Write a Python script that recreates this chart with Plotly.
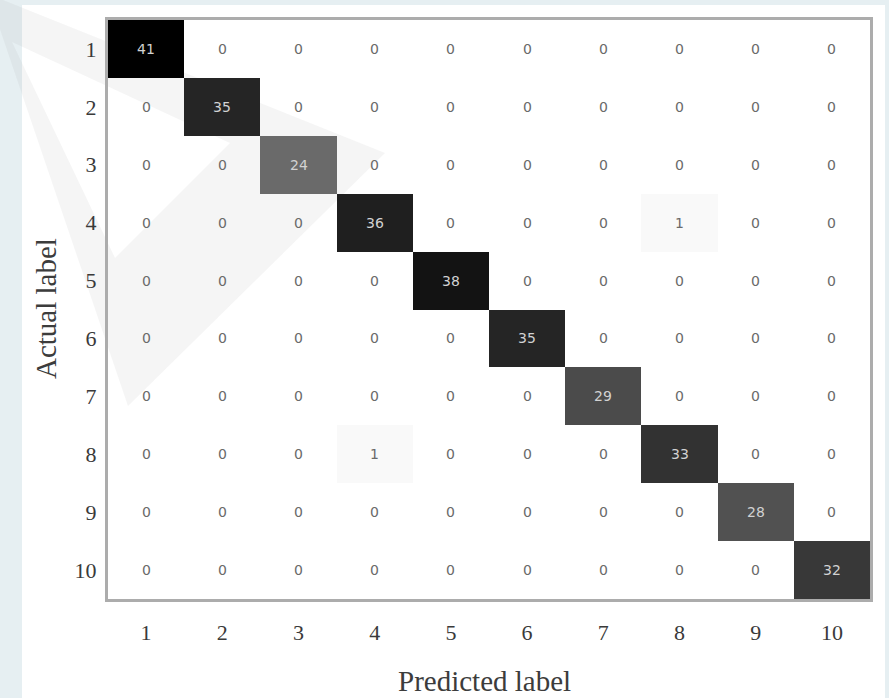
import plotly.graph_objects as go

# ---- data ----
labels = ["1", "2", "3", "4", "5", "6", "7", "8", "9", "10"]
row_1 = [41, 0, 0, 0, 0, 0, 0, 0, 0, 0]
row_2 = [0, 35, 0, 0, 0, 0, 0, 0, 0, 0]
row_3 = [0, 0, 24, 0, 0, 0, 0, 0, 0, 0]
row_4 = [0, 0, 0, 36, 0, 0, 0, 1, 0, 0]
row_5 = [0, 0, 0, 0, 38, 0, 0, 0, 0, 0]
row_6 = [0, 0, 0, 0, 0, 35, 0, 0, 0, 0]
row_7 = [0, 0, 0, 0, 0, 0, 29, 0, 0, 0]
row_8 = [0, 0, 0, 1, 0, 0, 0, 33, 0, 0]
row_9 = [0, 0, 0, 0, 0, 0, 0, 0, 28, 0]
row_10 = [0, 0, 0, 0, 0, 0, 0, 0, 0, 32]
matrix = [row_1, row_2, row_3, row_4, row_5, row_6, row_7, row_8, row_9, row_10]

# ---- layout geometry (pixels) ----
W, H = 889, 698
L, R, T, B = 108, 870, 20, 599


def px(p):
    return (p - L) / (R - L)


def py(p):
    return (B - p) / (B - T)


zmax = 41
colorscale = [
    [0.0, "rgba(255,255,255,0)"],
    [0.5 / zmax, "rgba(255,255,255,0)"],
    [1.0 / zmax, "rgb(249,249,249)"],
    [1.0, "rgb(0,0,0)"],
]

fig = go.Figure(
    go.Heatmap(
        z=matrix,
        x=labels,
        y=labels,
        zmin=0,
        zmax=zmax,
        colorscale=colorscale,
        showscale=False,
        hoverinfo="skip",
    )
)

annotations = []
for i, row in enumerate(matrix):
    for j, v in enumerate(row):
        annotations.append(
            dict(
                x=j,
                y=i,
                xref="x",
                yref="y",
                text=str(v),
                showarrow=False,
                font=dict(
                    family="DejaVu Sans",
                    size=14,
                    color="#d2d2d2" if v > zmax / 2 else "#6a6a6a",
                ),
            )
        )

serif = "Liberation Serif"
annotations.append(
    dict(
        x=px(484), y=py(681), xref="paper", yref="paper",
        text="Predicted label", showarrow=False,
        font=dict(family=serif, size=29, color="#3c3c3c"),
        xanchor="center", yanchor="middle",
    )
)
annotations.append(
    dict(
        x=px(46), y=py(309), xref="paper", yref="paper",
        text="Actual label", showarrow=False, textangle=-90,
        font=dict(family=serif, size=29, color="#3c3c3c"),
        xanchor="center", yanchor="middle",
    )
)

shapes = [
    # white card
    dict(
        type="rect", xref="paper", yref="paper", layer="below",
        x0=px(22), x1=px(885), y0=py(5), y1=py(705),
        fillcolor="white", line=dict(width=0),
    ),
    # faint watermark triangle outline
    dict(
        type="path", xref="paper", yref="paper", layer="below",
        path=(
            f"M {px(-12)},{py(-6)} L {px(385)},{py(153)} L {px(128)},{py(406)} Z "
            f"M {px(12)},{py(42)} L {px(230)},{py(143)} L {px(115)},{py(258)} Z"
        ),
        fillcolor="rgba(140,140,140,0.09)", line=dict(width=0),
        fillrule="evenodd",
    ),
]

fig.update_layout(
    width=W,
    height=H,
    margin=dict(l=L, r=W - R, t=T, b=H - B, pad=0),
    paper_bgcolor="#e6eff2",
    plot_bgcolor="rgba(0,0,0,0)",
    annotations=annotations,
    shapes=shapes,
    showlegend=False,
)

axis_common = dict(
    showgrid=False,
    zeroline=False,
    showline=True,
    mirror=True,
    linecolor="#acacac",
    linewidth=3,
    ticks="",
    tickfont=dict(family=serif, size=22, color="#3a3a3a"),
    type="category",
)
fig.update_xaxes(**axis_common, ticklabelstandoff=12)
fig.update_yaxes(**axis_common, autorange="reversed", ticklabelstandoff=4)

fig.write_html(
    "out.html",
    config={"displayModeBar": False},
    post_script=(
        "document.body.style.margin='0';"
        "document.body.style.overflow='hidden';"
        "document.body.style.background='#e6eff2';"
    ),
)
